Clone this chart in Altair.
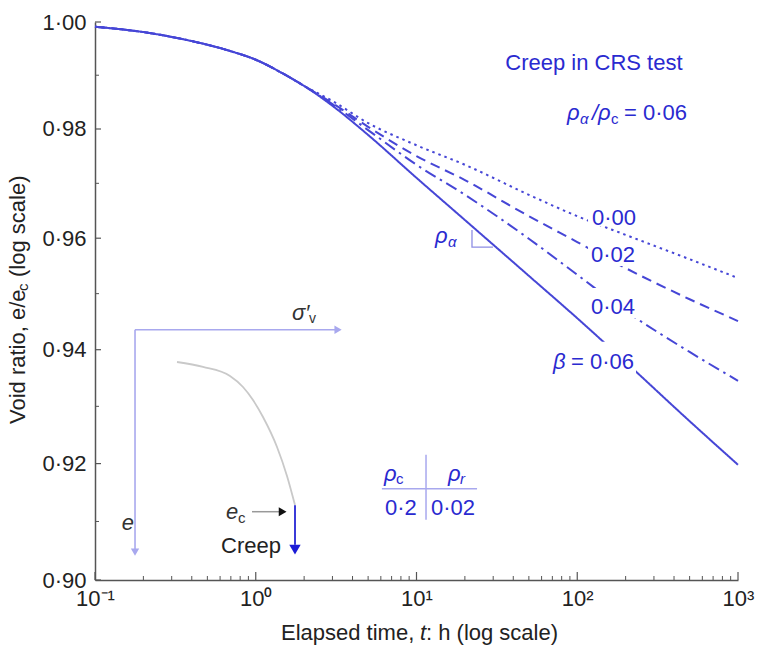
import altair as alt
import pandas as pd

# ---------------- data ----------------
time_h = [0.1, 0.2, 0.4, 0.7, 1, 1.5, 2, 3, 5, 10, 20, 50, 100, 200, 500, 1000]
e_b000 = [0.9991, 0.9981, 0.9964, 0.9945, 0.9929, 0.9902, 0.9880, 0.9852, 0.9811, 0.9770, 0.9734, 0.9679, 0.9640, 0.9606, 0.9562, 0.9528]
e_b002 = [0.9991, 0.9981, 0.9964, 0.9945, 0.9929, 0.9902, 0.9880, 0.9848, 0.9804, 0.9750, 0.9706, 0.9640, 0.9593, 0.9546, 0.9490, 0.9451]
e_b004 = [0.9991, 0.9981, 0.9964, 0.9945, 0.9929, 0.9902, 0.9880, 0.9846, 0.9798, 0.9734, 0.9679, 0.9599, 0.9534, 0.9469, 0.9396, 0.9345]
e_b006 = [0.9991, 0.9981, 0.9964, 0.9945, 0.9929, 0.9902, 0.9880, 0.9843, 0.9789, 0.9710, 0.9633, 0.9532, 0.9456, 0.9378, 0.9274, 0.9198]
series_names = ["0·00", "0·02", "0·04", "0·06"]

# inset sketch: e - sigma'v curve (gray)
inset_t = [0.3237, 0.4697, 0.6915, 0.8330, 0.9614, 1.1094, 1.3560, 1.5646, 1.754]
inset_e = [0.93782, 0.93694, 0.93534, 0.93340, 0.93111, 0.92813, 0.92289, 0.91785, 0.91283]

x_major = [0.1, 1, 10, 100, 1000]
x_major_labels = ["10⁻¹", "10⁰", "10¹", "10²", "10³"]
x_minor = [k * 10.0 ** d for d in range(-1, 3) for k in range(2, 10)]
y_major = [0.90, 0.92, 0.94, 0.96, 0.98, 1.00]
y_minor = [0.91, 0.93, 0.95, 0.97, 0.99]

# ---------------- styles ----------------
FONT = "Liberation Sans"
BLUE_LINE = "#4646d6"
BLUE_TEXT = "#2a2ad0"
LAV = "#a8a8ee"
INK = "#222222"
AXIS = "#555555"

xscale = alt.Scale(type="log", domain=[0.1, 1000], nice=False)
yscale = alt.Scale(type="log", domain=[0.9, 1.0], nice=False)

x_expr = ""
for v, lab in zip(x_major[:-1], x_major_labels[:-1]):
    x_expr += f"datum.value < {v * 3} ? '{lab}' : "
x_expr += f"'{x_major_labels[-1]}'"

xaxis = alt.Axis(values=x_major, labelExpr=x_expr, title=None, ticks=False, tickSize=0,
                 grid=False, domainColor=AXIS, domainWidth=1.5, labelFont=FONT,
                 labelFontSize=22, labelColor=INK, labelPadding=8, labelFlush=False,
                 labelOverlap=False, labelBound=False)
yaxis = alt.Axis(values=y_major, labelExpr="replace(format(datum.value, '.2f'), '.', '·')",
                 title=None, ticks=False, tickSize=0, grid=False, domainColor=AXIS,
                 domainWidth=1.5, labelFont=FONT, labelFontSize=22, labelColor=INK,
                 labelPadding=9, labelOverlap=False, labelBound=False, labelFlush=False)

X = alt.X("t:Q", scale=xscale, axis=xaxis)
Y = alt.Y("e:Q", scale=yscale, axis=yaxis)

W, H = 643, 558

# ---------------- curves ----------------
rows = []
for name, ev in zip(series_names, [e_b000, e_b002, e_b004, e_b006]):
    for t, e in zip(time_h, ev):
        rows.append({"t": t, "e": e, "beta": name})
curves = pd.DataFrame(rows)

lines = alt.Chart(curves).mark_line(strokeWidth=2, interpolate="monotone", color=BLUE_LINE).encode(
    x=X, y=Y,
    strokeDash=alt.StrokeDash("beta:N", legend=None,
                              scale=alt.Scale(domain=series_names,
                                              range=[[2.5, 4], [10, 6], [12, 5, 2.5, 5], [1, 0]])),
)

# white boxes that break the curves behind their labels
boxes = pd.DataFrame({
    "t": [116.7, 116.7, 116.7, 67.7],
    "t2": [245.7, 245.7, 245.7, 232.1],
    "e": [0.96566, 0.95877, 0.95101, 0.94141],
    "e2": [0.96222, 0.95497, 0.94563, 0.93570],
})
box_layer = alt.Chart(boxes).mark_rect(color="white").encode(x=X, x2="t2:Q", y=Y, y2="e2:Q")


def txt(t, e, s, dx=0, dy=0, size=22, color=BLUE_TEXT, italic=False, align="left"):
    df = pd.DataFrame({"t": [t], "e": [e], "s": [s]})
    return alt.Chart(df).mark_text(dx=dx, dy=dy, fontSize=size, font=FONT, color=color,
                                   fontStyle="italic" if italic else "normal",
                                   align=align, baseline="middle").encode(x=X, y=Y, text="s:N")


def ptxt(px, py, s, size=22, italic=False, angle=0, color=INK):
    df = pd.DataFrame({"s": [s]})
    return alt.Chart(df).mark_text(fontSize=size, font=FONT, color=color, align="left",
                                   baseline="middle", angle=angle,
                                   fontStyle="italic" if italic else "normal").encode(
        x=alt.value(px), y=alt.value(py), text="s:N")


# slope triangle
tri = pd.DataFrame({"t": [22.14, 22.14, 29.9], "e": [0.96148, 0.95840, 0.95840], "o": [0, 1, 2]})
tri_layer = alt.Chart(tri).mark_line(color="#8d8de4", strokeWidth=1.3).encode(x=X, y=Y, order="o:Q")

# small table lines
tab_h = alt.Chart(pd.DataFrame({"t": [6.09], "t2": [23.8], "e": [0.91566]})).mark_rule(
    color=LAV, strokeWidth=1.5).encode(x=X, x2="t2:Q", y=Y)
tab_v = alt.Chart(pd.DataFrame({"t": [11.46], "e": [0.92153], "e2": [0.91030]})).mark_rule(
    color=LAV, strokeWidth=1.5).encode(x=X, y=Y, y2="e2:Q")

# inset sketch
inset_df = pd.DataFrame({"t": inset_t, "e": inset_e})
inset_curve = alt.Chart(inset_df).mark_line(color="#c9c9c9", strokeWidth=1.8, interpolate="monotone").encode(x=X, y=Y)
inset_hax = alt.Chart(pd.DataFrame({"t": [0.1774], "t2": [3.2], "e": [0.94354]})).mark_rule(
    color=LAV, strokeWidth=1.6).encode(x=X, x2="t2:Q", y=Y)
inset_vax = alt.Chart(pd.DataFrame({"t": [0.1774], "e": [0.94354], "e2": [0.9050]})).mark_rule(
    color=LAV, strokeWidth=1.6).encode(x=X, y=Y, y2="e2:Q")
inset_hhead = alt.Chart(pd.DataFrame({"t": [3.25], "e": [0.94354]})).mark_point(
    shape="triangle-right", filled=True, color=LAV, size=70, opacity=1).encode(x=X, y=Y)
inset_vhead = alt.Chart(pd.DataFrame({"t": [0.1774], "e": [0.90476]})).mark_point(
    shape="triangle-down", filled=True, color=LAV, size=70, opacity=1).encode(x=X, y=Y)
ec_arrow = alt.Chart(pd.DataFrame({"t": [0.948], "t2": [1.45], "e": [0.91168]})).mark_rule(
    color="#999999", strokeWidth=1.5).encode(x=X, x2="t2:Q", y=Y)
ec_head = alt.Chart(pd.DataFrame({"t": [1.47], "e": [0.91168]})).mark_point(
    shape="triangle-right", filled=True, color="#111111", size=80, opacity=1).encode(x=X, y=Y)
creep_shaft = alt.Chart(pd.DataFrame({"t": [1.754], "e": [0.9128], "e2": [0.9060]})).mark_rule(
    color="#3b3bd8", strokeWidth=2).encode(x=X, y=Y, y2="e2:Q")
creep_head = alt.Chart(pd.DataFrame({"t": [1.754], "e": [0.90518]})).mark_point(
    shape="triangle-down", filled=True, color="#1c1cd6", size=130, opacity=1).encode(x=X, y=Y)

# axis tick marks (inward)
xt_major = alt.Chart(pd.DataFrame({"t": x_major})).mark_rule(color=AXIS, strokeWidth=1.2).encode(
    x=X, y=alt.value(H), y2=alt.value(H - 8))
xt_minor = alt.Chart(pd.DataFrame({"t": x_minor})).mark_rule(color=AXIS, strokeWidth=1).encode(
    x=X, y=alt.value(H), y2=alt.value(H - 4))
yt_major = alt.Chart(pd.DataFrame({"e": y_major})).mark_rule(color=AXIS, strokeWidth=1.2).encode(
    y=Y, x=alt.value(0), x2=alt.value(6))
yt_minor = alt.Chart(pd.DataFrame({"e": y_minor})).mark_rule(color=AXIS, strokeWidth=1).encode(
    y=Y, x=alt.value(0), x2=alt.value(4))

texts = [
    txt(127, 0.99229, "Creep in CRS test", align="center"),
    # rho_alpha / rho_c = 0.06
    txt(86.3, 0.98296, "ρ", italic=True),
    txt(86.3, 0.98296, "α", dx=13, dy=6, size=15, italic=True),
    txt(86.3, 0.98296, "/ρ", dx=25, italic=True),
    txt(86.3, 0.98296, "c", dx=44, dy=6, size=15),
    txt(86.3, 0.98296, "= 0·06", dx=57),
    # curve labels
    txt(169.3, 0.96367, series_names[0], align="center"),
    txt(166.9, 0.95699, series_names[1], align="center"),
    txt(166.9, 0.94762, series_names[2], align="center"),
    txt(70.7, 0.93782, "β", italic=True),
    txt(70.7, 0.93782, "= " + series_names[3], dx=18),
    # slope label
    txt(13.03, 0.96040, "ρ", italic=True),
    txt(13.03, 0.96040, "α", dx=13, dy=6, size=15, italic=True),
    # table
    txt(6.09, 0.91823, "ρ", dx=2, italic=True),
    txt(6.09, 0.91823, "c", dx=14, dy=5, size=15),
    txt(15.7, 0.91823, "ρ", italic=True),
    txt(15.7, 0.91823, "r", dx=12, dy=5, size=15, italic=True),
    txt(6.37, 0.91237, "0·2"),
    txt(12.31, 0.91237, "0·02"),
    # inset text
    txt(1.94, 0.94655, "σ′", dx=-10, italic=True, color="#333333"),
    txt(1.94, 0.94655, "v", dx=7, dy=6, size=14, color="#333333"),
    txt(0.1604, 0.90979, "e", align="center", italic=True, color="#333333"),
    txt(0.653, 0.91168, "e", italic=True, color="#333333"),
    txt(0.653, 0.91168, "c", dx=12, dy=6, size=15, color="#333333"),
    txt(0.934, 0.90587, "Creep", align="center", color="#222222"),
    # axis titles
    ptxt(-77, 402, "Void ratio, e/e", angle=270),
    ptxt(-72, 269, "c", size=15, angle=270),
    ptxt(-77, 255, "(log scale)", angle=270),
    ptxt(186, 611, "Elapsed time,"),
    ptxt(325, 611, "t", italic=True),
    ptxt(331, 611, ": h (log scale)"),
]

chart = alt.layer(
    lines, box_layer, tri_layer, tab_h, tab_v,
    inset_curve, inset_hax, inset_vax, inset_hhead, inset_vhead,
    ec_arrow, ec_head, creep_shaft, creep_head,
    xt_major, xt_minor, yt_major, yt_minor,
    *texts,
).properties(
    width=W, height=H,
    autosize=alt.AutoSizeParams(type="none"),
    padding={"left": 95, "top": 22, "right": 20, "bottom": 74},
    background="white",
).configure_view(strokeWidth=0)

chart.save("out.html", embed_options={"renderer": "svg", "actions": False})
